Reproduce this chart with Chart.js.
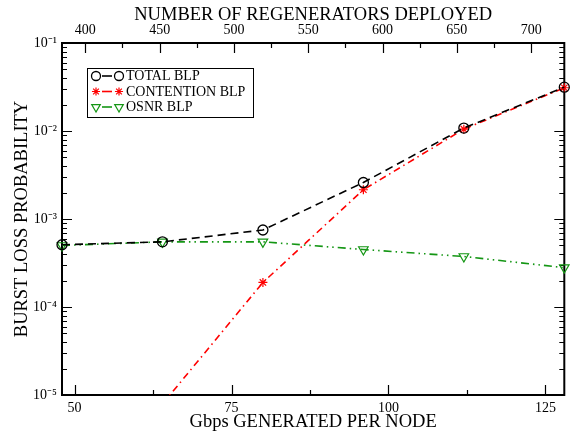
<!DOCTYPE html>
<html>
<head>
<meta charset="utf-8">
<script src="https://cdn.jsdelivr.net/npm/chart.js@4/dist/chart.umd.min.js"></script>
<style>
html,body{margin:0;padding:0;background:#fff;}
canvas{display:block;}
</style>
</head>
<body>
<canvas id="c" width="571" height="437"></canvas>
<script>
// ---- data ----
const gbpsPerNode = [48, 64, 80, 96, 112, 128];
const totalBLP = [5.1e-4, 5.5e-4, 7.5e-4, 2.6e-3, 1.08e-2, 3.15e-2];
const contentionBLP = [null, 7.9e-6, 1.9e-4, 2.15e-3, 1.05e-2, 3.1e-2];
const osnrBLP = [5.0e-4, 5.5e-4, 5.5e-4, 4.5e-4, 3.75e-4, 2.8e-4];
const seriesNames = ['TOTAL BLP', 'CONTENTION BLP', 'OSNR BLP'];
const xTicks = [50, 62.5, 75, 87.5, 100, 112.5, 125];
const xMajor = [50, 75, 100, 125];
const topTicks = [400, 425, 450, 475, 500, 525, 550, 575, 600, 625, 650, 675, 700];
const topMajor = [400, 450, 500, 550, 600, 650, 700];
const yDecades = [-5, -4, -3, -2, -1];
const yLabels = ['10\u207B\u2075', '10\u207B\u2074', '10\u207B\u00B3', '10\u207B\u00B2', '10\u207B\u00B9'];
const xTitle = 'Gbps GENERATED PER NODE';
const topTitle = 'NUMBER OF REGENERATORS DEPLOYED';
const yTitle = 'BURST LOSS PROBABILITY';

const FONT = "'Liberation Serif', 'Times New Roman', serif";
const GREEN = 'rgb(20,150,20)';

function pts(arr){ return gbpsPerNode.map((x,i)=>({x:x, y:arr[i]})); }

const yTickVals = [];
yDecades.forEach(d => {
  for (let m = 1; m <= 9; m++) {
    const v = m * Math.pow(10, d);
    if (d === -1 && m > 1) break;
    yTickVals.push(v);
  }
});

function isMajorY(v){
  const l = Math.log10(v);
  return Math.abs(l - Math.round(l)) < 1e-9;
}

const CLIP = { left: 8, right: 8, top: 8, bottom: 0 };

const datasets = [
  {
    label: seriesNames[0], data: pts(totalBLP),
    borderColor: '#000', backgroundColor: 'rgba(0,0,0,0)',
    borderWidth: 1.6, borderDash: [8, 5],
    pointStyle: 'circle', pointRadius: 5, pointBorderWidth: 1.3,
    pointBorderColor: '#000', pointBackgroundColor: 'rgba(0,0,0,0)',
    tension: 0, order: 1, clip: CLIP
  },
  {
    label: seriesNames[1], data: pts(contentionBLP),
    borderColor: '#ff0000', backgroundColor: 'rgba(0,0,0,0)',
    borderWidth: 1.6, borderDash: [7, 4, 1.5, 4],
    pointStyle: 'star', pointRadius: 4.5, pointBorderWidth: 1.2,
    pointBorderColor: '#ff0000', pointBackgroundColor: 'rgba(0,0,0,0)',
    tension: 0, order: 2, clip: CLIP
  },
  {
    label: seriesNames[2], data: pts(osnrBLP),
    borderColor: GREEN, backgroundColor: 'rgba(0,0,0,0)',
    borderWidth: 1.6, borderDash: [8, 4, 1.5, 4, 1.5, 4],
    pointStyle: 'triangle', pointRotation: 180, pointRadius: 5.5, pointBorderWidth: 1.2,
    pointBorderColor: GREEN, pointBackgroundColor: 'rgba(0,0,0,0)',
    tension: 0, order: 3, clip: CLIP
  }
];

const frameTicks = {
  id: 'frameTicks',
  beforeDatasetsDraw(chart) {
    const ctx = chart.ctx, a = chart.chartArea;
    const xs = chart.scales.x, xt = chart.scales.xTop, ys = chart.scales.y;
    ctx.save();
    ctx.strokeStyle = '#000';
    ctx.lineWidth = 1.2;
    ctx.beginPath();
    xTicks.forEach(v => {
      const px = Math.round(xs.getPixelForValue(v)) + 0.5;
      const len = xMajor.includes(v) ? 10 : 5;
      ctx.moveTo(px, a.bottom); ctx.lineTo(px, a.bottom - len);
    });
    topTicks.forEach(v => {
      const px = Math.round(xt.getPixelForValue(v)) + 0.5;
      const len = topMajor.includes(v) ? 10 : 5;
      ctx.moveTo(px, a.top); ctx.lineTo(px, a.top + len);
    });
    yTickVals.forEach(v => {
      const py = Math.round(ys.getPixelForValue(v)) + 0.5;
      const len = isMajorY(v) ? 10 : 5;
      ctx.moveTo(a.left, py); ctx.lineTo(a.left + len, py);
      ctx.moveTo(a.right, py); ctx.lineTo(a.right - len, py);
    });
    ctx.stroke();
    ctx.lineWidth = 2;
    ctx.strokeRect(a.left, a.top, a.right - a.left, a.bottom - a.top);
    ctx.restore();
  }
};

const customLegend = {
  id: 'customLegend',
  afterDraw(chart) {
    const ctx = chart.ctx;
    const bx = 87, by = 68, bw = 166, bh = 49;
    ctx.save();
    ctx.fillStyle = '#fff';
    ctx.fillRect(bx, by, bw, bh);
    ctx.strokeStyle = '#000';
    ctx.lineWidth = 1;
    ctx.strokeRect(bx + 0.5, by + 0.5, bw, bh);
    const rows = [76, 91.5, 107];
    chart.data.datasets.forEach((ds, i) => {
      const y = rows[i];
      ctx.save();
      ctx.strokeStyle = ds.borderColor;
      ctx.lineWidth = 1.6;
      ctx.beginPath();
      ctx.moveTo(102, y); ctx.lineTo(112, y);
      ctx.stroke();
      ctx.restore();
      const opts = {pointStyle: ds.pointStyle, radius: ds.pointRadius * 0.9, rotation: ds.pointRotation || 0, borderWidth: ds.pointBorderWidth};
      ctx.save();
      ctx.strokeStyle = ds.pointBorderColor;
      ctx.fillStyle = 'rgba(0,0,0,0)';
      ctx.lineWidth = ds.pointBorderWidth;
      Chart.helpers.drawPoint(ctx, opts, 96, y);
      Chart.helpers.drawPoint(ctx, opts, 119, y);
      ctx.restore();
      ctx.fillStyle = '#000';
      ctx.font = '14px ' + FONT;
      ctx.textBaseline = 'middle';
      ctx.textAlign = 'left';
      ctx.fillText(ds.label, 126, y + 0.5);
    });
    ctx.restore();
  }
};

new Chart(document.getElementById('c'), {
  type: 'line',
  data: { datasets: datasets },
  options: {
    responsive: false,
    animation: false,
    events: [],
    layout: { padding: { left: 0, right: 5, top: 0, bottom: 0 } },
    plugins: { legend: { display: false }, tooltip: { enabled: false }, title: { display: false } },
    scales: {
      x: {
        type: 'linear', position: 'bottom', min: 48, max: 128,
        grid: { display: false, drawTicks: false, tickLength: 0 }, border: { display: false },
        afterBuildTicks: s => { s.ticks = xTicks.map(v => ({value: v})); },
        afterFit: s => { s.height = 42; },
        ticks: {
          autoSkip: false, maxRotation: 0, padding: 5, color: '#000',
          font: { family: FONT, size: 14 },
          callback: v => xMajor.includes(v) ? String(v) : ''
        },
        title: { display: true, text: xTitle, color: '#000', font: { family: FONT, size: 18.5 }, padding: { top: 0, bottom: 4 } }
      },
      xTop: {
        type: 'linear', position: 'top', min: 384.3, max: 722.3,
        grid: { display: false, drawTicks: false, tickLength: 0 }, border: { display: false },
        afterBuildTicks: s => { s.ticks = topTicks.map(v => ({value: v})); },
        afterFit: s => { s.height = 43; },
        ticks: {
          autoSkip: false, maxRotation: 0, padding: 4, color: '#000',
          font: { family: FONT, size: 14 },
          callback: v => topMajor.includes(v) ? String(v) : ''
        },
        title: { display: true, text: topTitle, color: '#000', font: { family: FONT, size: 18.5 }, padding: { top: 4, bottom: 0 } }
      },
      y: {
        type: 'logarithmic', position: 'left', min: 1e-5, max: 1e-1,
        grid: { display: false, drawTicks: false, tickLength: 0 }, border: { display: false },
        afterBuildTicks: s => { s.ticks = yTickVals.map(v => ({value: v})); },
        afterFit: s => { s.width = 62; },
        ticks: {
          autoSkip: false, padding: 5, color: '#000',
          font: { family: FONT, size: 14 },
          callback: v => {
            if (!isMajorY(v)) return '';
            const d = Math.round(Math.log10(v));
            return yLabels[yDecades.indexOf(d)];
          }
        },
        title: { display: true, text: yTitle, color: '#000', font: { family: FONT, size: 18.5 }, padding: { top: 11, bottom: 0 } }
      }
    }
  },
  plugins: [frameTicks, customLegend]
});
</script>
</body>
</html>
